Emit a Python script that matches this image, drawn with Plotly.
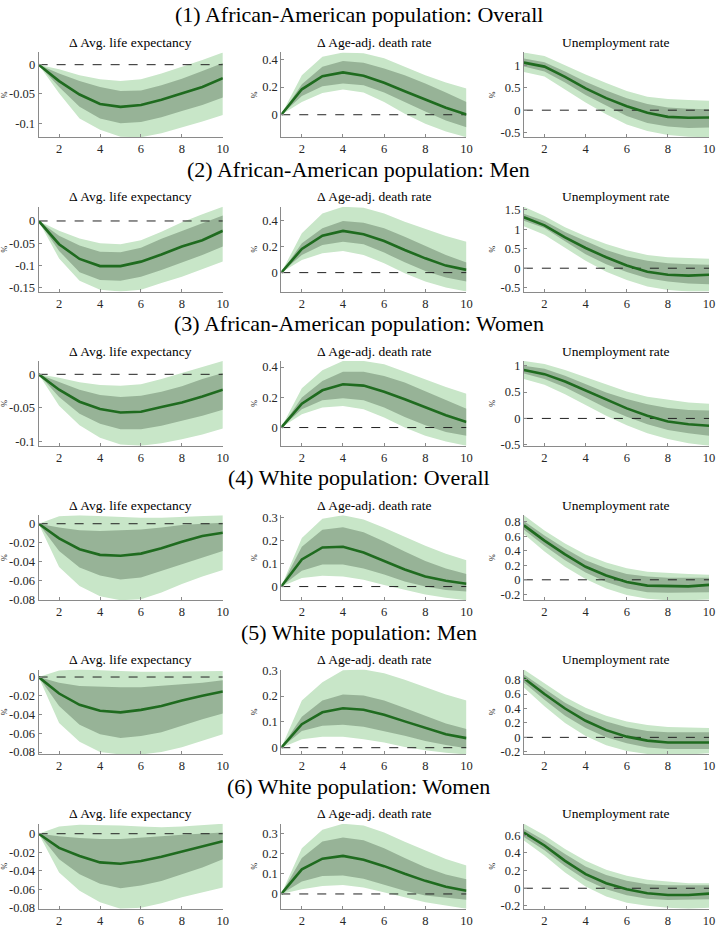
import plotly.graph_objects as go

# ---------------- data ----------------
horizon = [1, 2, 3, 4, 5, 6, 7, 8, 9, 10]
x_tick_vals = [2, 4, 6, 8, 10]
row_titles = [
    "(1) African-American population: Overall",
    "(2) African-American population: Men",
    "(3) African-American population: Women",
    "(4) White population: Overall",
    "(5) White population: Men",
    "(6) White population: Women",
]
panel_titles = ["Δ Avg. life expectancy", "Δ Age-adj. death rate", "Unemployment rate"]
y_unit = "%"

# Row 1: African-American overall
r1_le_med = [0, -0.028, -0.051, -0.067, -0.072, -0.069, -0.060, -0.049, -0.038, -0.023]
r1_le_in_hi = [0, -0.015, -0.028, -0.038, -0.045, -0.044, -0.035, -0.024, -0.011, 0.003]
r1_le_in_lo = [0, -0.038, -0.072, -0.092, -0.100, -0.098, -0.090, -0.079, -0.069, -0.056]
r1_le_out_hi = [0, -0.008, -0.018, -0.025, -0.028, -0.025, -0.015, -0.004, 0.008, 0.021]
r1_le_out_lo = [0, -0.049, -0.092, -0.111, -0.123, -0.124, -0.117, -0.107, -0.097, -0.086]
r1_le_ticks = [-0.1, -0.05, 0]

r1_dr_med = [0, 0.184, 0.279, 0.306, 0.282, 0.231, 0.170, 0.109, 0.051, 0.002]
r1_dr_in_hi = [0, 0.221, 0.347, 0.388, 0.376, 0.335, 0.286, 0.226, 0.160, 0.092]
r1_dr_in_lo = [0, 0.136, 0.206, 0.226, 0.214, 0.160, 0.092, 0.024, -0.041, -0.090]
r1_dr_out_hi = [0, 0.286, 0.420, 0.451, 0.444, 0.408, 0.347, 0.286, 0.233, 0.189]
r1_dr_out_lo = [0, 0.092, 0.158, 0.182, 0.160, 0.092, 0.007, -0.066, -0.121, -0.163]
r1_dr_ticks = [0, 0.2, 0.4]

r1_ur_med = [1.07, 0.98, 0.75, 0.49, 0.27, 0.09, -0.06, -0.15, -0.17, -0.165]
r1_ur_in_hi = [1.16, 1.08, 0.87, 0.64, 0.44, 0.27, 0.14, 0.06, 0.03, 0.02]
r1_ur_in_lo = [0.98, 0.87, 0.62, 0.34, 0.10, -0.13, -0.29, -0.37, -0.40, -0.39]
r1_ur_out_hi = [1.30, 1.22, 1.01, 0.80, 0.61, 0.43, 0.30, 0.25, 0.23, 0.21]
r1_ur_out_lo = [0.86, 0.76, 0.46, 0.17, -0.09, -0.32, -0.47, -0.56, -0.60, -0.61]
r1_ur_ticks = [-0.5, 0, 0.5, 1]

# Row 2: African-American men
r2_le_med = [0, -0.052, -0.085, -0.101, -0.101, -0.091, -0.075, -0.057, -0.043, -0.022]
r2_le_in_hi = [0, -0.033, -0.055, -0.069, -0.070, -0.060, -0.040, -0.022, -0.005, 0.012]
r2_le_in_lo = [0, -0.067, -0.115, -0.132, -0.134, -0.125, -0.110, -0.093, -0.076, -0.057]
r2_le_out_hi = [0, -0.022, -0.039, -0.050, -0.052, -0.043, -0.024, -0.003, 0.015, 0.032]
r2_le_out_lo = [0, -0.084, -0.134, -0.154, -0.158, -0.154, -0.139, -0.125, -0.108, -0.091]
r2_le_ticks = [-0.15, -0.1, -0.05, 0]

r2_dr_med = [0, 0.182, 0.285, 0.321, 0.295, 0.244, 0.174, 0.110, 0.054, 0.021]
r2_dr_in_hi = [0, 0.226, 0.341, 0.397, 0.385, 0.341, 0.277, 0.208, 0.136, 0.077]
r2_dr_in_lo = [0, 0.136, 0.213, 0.238, 0.218, 0.154, 0.079, 0.013, -0.038, -0.069]
r2_dr_out_hi = [0, 0.303, 0.456, 0.508, 0.500, 0.456, 0.392, 0.336, 0.282, 0.238]
r2_dr_out_lo = [0, 0.097, 0.149, 0.167, 0.136, 0.072, -0.005, -0.069, -0.115, -0.146]
r2_dr_ticks = [0, 0.2, 0.4]

r2_ur_med = [1.31, 1.10, 0.79, 0.52, 0.28, 0.07, -0.09, -0.17, -0.19, -0.17]
r2_ur_in_hi = [1.40, 1.21, 0.93, 0.69, 0.47, 0.30, 0.19, 0.13, 0.10, 0.09]
r2_ur_in_lo = [1.22, 1.03, 0.69, 0.36, 0.10, -0.10, -0.26, -0.34, -0.39, -0.41]
r2_ur_out_hi = [1.58, 1.34, 1.05, 0.82, 0.62, 0.46, 0.34, 0.28, 0.26, 0.24]
r2_ur_out_lo = [1.08, 0.86, 0.52, 0.19, -0.09, -0.30, -0.47, -0.56, -0.60, -0.60]
r2_ur_ticks = [-0.5, 0, 0.5, 1, 1.5]

# Row 3: African-American women
r3_le_med = [0, -0.023, -0.041, -0.052, -0.057, -0.056, -0.049, -0.042, -0.033, -0.023]
r3_le_in_hi = [0, -0.012, -0.023, -0.031, -0.034, -0.032, -0.026, -0.018, -0.007, 0.002]
r3_le_in_lo = [0, -0.034, -0.059, -0.074, -0.082, -0.082, -0.077, -0.069, -0.062, -0.053]
r3_le_out_hi = [0, -0.005, -0.012, -0.016, -0.017, -0.015, -0.007, 0.002, 0.011, 0.020]
r3_le_out_lo = [0, -0.047, -0.076, -0.095, -0.105, -0.107, -0.103, -0.097, -0.090, -0.081]
r3_le_ticks = [-0.1, -0.05, 0]

r3_dr_med = [0, 0.158, 0.246, 0.286, 0.277, 0.237, 0.187, 0.132, 0.081, 0.037]
r3_dr_in_hi = [0, 0.198, 0.308, 0.369, 0.369, 0.341, 0.297, 0.242, 0.182, 0.125]
r3_dr_in_lo = [0, 0.121, 0.180, 0.193, 0.180, 0.132, 0.070, 0.015, -0.029, -0.055]
r3_dr_out_hi = [0, 0.259, 0.378, 0.440, 0.440, 0.418, 0.369, 0.319, 0.268, 0.224]
r3_dr_out_lo = [0, 0.088, 0.132, 0.143, 0.121, 0.066, 0.000, -0.055, -0.092, -0.121]
r3_dr_ticks = [0, 0.2, 0.4]

r3_ur_med = [0.92, 0.84, 0.70, 0.53, 0.35, 0.19, 0.05, -0.06, -0.11, -0.14]
r3_ur_in_hi = [1.00, 0.94, 0.81, 0.65, 0.49, 0.37, 0.27, 0.20, 0.16, 0.15]
r3_ur_in_lo = [0.85, 0.75, 0.59, 0.39, 0.20, 0.03, -0.11, -0.22, -0.28, -0.33]
r3_ur_out_hi = [1.09, 1.03, 0.92, 0.78, 0.64, 0.51, 0.41, 0.35, 0.30, 0.28]
r3_ur_out_lo = [0.75, 0.64, 0.46, 0.25, 0.05, -0.13, -0.28, -0.39, -0.47, -0.52]
r3_ur_ticks = [-0.5, 0, 0.5, 1]

# Row 4: White overall
r4_le_med = [0, -0.0155, -0.027, -0.033, -0.034, -0.0317, -0.026, -0.019, -0.013, -0.0095]
r4_le_in_hi = [0, -0.004, -0.007, -0.0078, -0.007, -0.006, -0.004, -0.0014, 0, 0.001]
r4_le_in_lo = [0, -0.029, -0.0465, -0.055, -0.059, -0.057, -0.050, -0.043, -0.036, -0.029]
r4_le_out_hi = [0, 0.008, 0.009, 0.008, 0.007, 0.0063, 0.0063, 0.007, 0.008, 0.009]
r4_le_out_lo = [0, -0.046, -0.066, -0.077, -0.081, -0.080, -0.073, -0.064, -0.056, -0.049]
r4_le_ticks = [-0.08, -0.06, -0.04, -0.02, 0]

r4_dr_med = [0, 0.118, 0.170, 0.173, 0.148, 0.111, 0.074, 0.044, 0.025, 0.012]
r4_dr_in_hi = [0, 0.173, 0.247, 0.258, 0.236, 0.196, 0.152, 0.111, 0.078, 0.055]
r4_dr_in_lo = [0, 0.069, 0.096, 0.096, 0.078, 0.052, 0.022, 0.000, -0.015, -0.022]
r4_dr_out_hi = [0, 0.211, 0.295, 0.310, 0.291, 0.256, 0.217, 0.177, 0.143, 0.114]
r4_dr_out_lo = [0, 0.037, 0.047, 0.044, 0.030, 0.007, -0.015, -0.034, -0.049, -0.059]
r4_dr_ticks = [0, 0.1, 0.2, 0.3]

r4_ur_med = [0.75, 0.54, 0.35, 0.18, 0.06, -0.03, -0.08, -0.09, -0.09, -0.07]
r4_ur_in_hi = [0.81, 0.61, 0.43, 0.27, 0.16, 0.08, 0.045, 0.03, 0.03, 0.03]
r4_ur_in_lo = [0.69, 0.47, 0.27, 0.10, -0.03, -0.12, -0.17, -0.18, -0.18, -0.17]
r4_ur_out_hi = [0.89, 0.68, 0.50, 0.35, 0.24, 0.16, 0.11, 0.09, 0.08, 0.07]
r4_ur_out_lo = [0.63, 0.39, 0.18, 0.01, -0.12, -0.21, -0.26, -0.28, -0.28, -0.27]
r4_ur_ticks = [-0.2, 0, 0.2, 0.4, 0.6, 0.8]

# Row 5: White men
r5_le_med = [0, -0.0176, -0.0296, -0.036, -0.0377, -0.035, -0.031, -0.025, -0.020, -0.0155]
r5_le_in_hi = [0, -0.006, -0.0095, -0.0106, -0.011, -0.011, -0.0095, -0.0078, -0.006, -0.0035]
r5_le_in_lo = [0, -0.031, -0.051, -0.061, -0.065, -0.063, -0.059, -0.052, -0.045, -0.039]
r5_le_out_hi = [0, 0.007, 0.008, 0.007, 0.0063, 0.0056, 0.0056, 0.0056, 0.0063, 0.0063]
r5_le_out_lo = [0, -0.049, -0.069, -0.080, -0.0825, -0.0825, -0.080, -0.075, -0.068, -0.061]
r5_le_ticks = [-0.08, -0.06, -0.04, -0.02, 0]

r5_dr_med = [0, 0.091, 0.137, 0.153, 0.147, 0.128, 0.102, 0.076, 0.052, 0.037]
r5_dr_in_hi = [0, 0.120, 0.183, 0.206, 0.202, 0.183, 0.154, 0.124, 0.094, 0.072]
r5_dr_in_lo = [0, 0.065, 0.085, 0.089, 0.081, 0.065, 0.046, 0.026, 0.010, -0.002]
r5_dr_out_hi = [0, 0.183, 0.254, 0.300, 0.303, 0.289, 0.263, 0.235, 0.206, 0.183]
r5_dr_out_lo = [0, 0.033, 0.042, 0.042, 0.033, 0.020, 0.003, -0.010, -0.020, -0.026]
r5_dr_ticks = [0, 0.1, 0.2, 0.3]

r5_ur_med = [0.82, 0.60, 0.40, 0.23, 0.10, 0.01, -0.045, -0.07, -0.07, -0.07]
r5_ur_in_hi = [0.87, 0.67, 0.48, 0.33, 0.22, 0.14, 0.09, 0.07, 0.07, 0.07]
r5_ur_in_lo = [0.76, 0.52, 0.30, 0.13, 0.0, -0.08, -0.14, -0.16, -0.16, -0.16]
r5_ur_out_hi = [0.94, 0.75, 0.56, 0.41, 0.30, 0.22, 0.17, 0.145, 0.14, 0.13]
r5_ur_out_lo = [0.69, 0.43, 0.20, 0.02, -0.11, -0.19, -0.23, -0.236, -0.236, -0.22]
r5_ur_ticks = [-0.2, 0, 0.2, 0.4, 0.6, 0.8]

# Row 6: White women
r6_le_med = [0, -0.0153, -0.024, -0.031, -0.0324, -0.0295, -0.025, -0.0196, -0.0135, -0.0082]
r6_le_in_hi = [0, -0.0028, -0.0046, -0.0057, -0.0057, -0.0046, -0.0028, -0.001, 0, 0.0014]
r6_le_in_lo = [0, -0.0277, -0.0437, -0.054, -0.059, -0.056, -0.051, -0.0437, -0.0366, -0.0277]
r6_le_out_hi = [0, 0.0078, 0.0096, 0.0096, 0.0089, 0.0078, 0.0071, 0.0078, 0.0089, 0.0107]
r6_le_out_lo = [0, -0.042, -0.0615, -0.074, -0.081, -0.080, -0.075, -0.0686, -0.063, -0.058]
r6_le_ticks = [-0.08, -0.06, -0.04, -0.02, 0]

r6_dr_med = [0, 0.122, 0.175, 0.189, 0.170, 0.138, 0.100, 0.065, 0.036, 0.016]
r6_dr_in_hi = [0, 0.178, 0.260, 0.280, 0.267, 0.227, 0.178, 0.133, 0.097, 0.073]
r6_dr_in_lo = [0, 0.062, 0.089, 0.092, 0.076, 0.045, 0.016, -0.008, -0.019, -0.029]
r6_dr_out_hi = [0, 0.227, 0.319, 0.348, 0.340, 0.305, 0.259, 0.214, 0.173, 0.141]
r6_dr_out_lo = [0, 0.024, 0.040, 0.044, 0.032, 0.008, -0.016, -0.041, -0.057, -0.073]
r6_dr_ticks = [0, 0.1, 0.2, 0.3]

r6_ur_med = [0.63, 0.485, 0.31, 0.16, 0.057, -0.011, -0.057, -0.076, -0.076, -0.061]
r6_ur_in_hi = [0.674, 0.541, 0.389, 0.248, 0.149, 0.084, 0.046, 0.034, 0.034, 0.034]
r6_ur_in_lo = [0.581, 0.43, 0.25, 0.095, -0.011, -0.08, -0.118, -0.133, -0.133, -0.126]
r6_ur_out_hi = [0.731, 0.60, 0.446, 0.312, 0.21, 0.141, 0.095, 0.072, 0.057, 0.057]
r6_ur_out_lo = [0.541, 0.37, 0.179, 0.019, -0.095, -0.164, -0.20, -0.221, -0.232, -0.221]
r6_ur_ticks = [-0.2, 0, 0.2, 0.4, 0.6]

panels = [
    [(r1_le_med, r1_le_in_lo, r1_le_in_hi, r1_le_out_lo, r1_le_out_hi, r1_le_ticks),
     (r1_dr_med, r1_dr_in_lo, r1_dr_in_hi, r1_dr_out_lo, r1_dr_out_hi, r1_dr_ticks),
     (r1_ur_med, r1_ur_in_lo, r1_ur_in_hi, r1_ur_out_lo, r1_ur_out_hi, r1_ur_ticks)],
    [(r2_le_med, r2_le_in_lo, r2_le_in_hi, r2_le_out_lo, r2_le_out_hi, r2_le_ticks),
     (r2_dr_med, r2_dr_in_lo, r2_dr_in_hi, r2_dr_out_lo, r2_dr_out_hi, r2_dr_ticks),
     (r2_ur_med, r2_ur_in_lo, r2_ur_in_hi, r2_ur_out_lo, r2_ur_out_hi, r2_ur_ticks)],
    [(r3_le_med, r3_le_in_lo, r3_le_in_hi, r3_le_out_lo, r3_le_out_hi, r3_le_ticks),
     (r3_dr_med, r3_dr_in_lo, r3_dr_in_hi, r3_dr_out_lo, r3_dr_out_hi, r3_dr_ticks),
     (r3_ur_med, r3_ur_in_lo, r3_ur_in_hi, r3_ur_out_lo, r3_ur_out_hi, r3_ur_ticks)],
    [(r4_le_med, r4_le_in_lo, r4_le_in_hi, r4_le_out_lo, r4_le_out_hi, r4_le_ticks),
     (r4_dr_med, r4_dr_in_lo, r4_dr_in_hi, r4_dr_out_lo, r4_dr_out_hi, r4_dr_ticks),
     (r4_ur_med, r4_ur_in_lo, r4_ur_in_hi, r4_ur_out_lo, r4_ur_out_hi, r4_ur_ticks)],
    [(r5_le_med, r5_le_in_lo, r5_le_in_hi, r5_le_out_lo, r5_le_out_hi, r5_le_ticks),
     (r5_dr_med, r5_dr_in_lo, r5_dr_in_hi, r5_dr_out_lo, r5_dr_out_hi, r5_dr_ticks),
     (r5_ur_med, r5_ur_in_lo, r5_ur_in_hi, r5_ur_out_lo, r5_ur_out_hi, r5_ur_ticks)],
    [(r6_le_med, r6_le_in_lo, r6_le_in_hi, r6_le_out_lo, r6_le_out_hi, r6_le_ticks),
     (r6_dr_med, r6_dr_in_lo, r6_dr_in_hi, r6_dr_out_lo, r6_dr_out_hi, r6_dr_ticks),
     (r6_ur_med, r6_ur_in_lo, r6_ur_in_hi, r6_ur_out_lo, r6_ur_out_hi, r6_ur_ticks)],
]

# ---------------- styling / layout ----------------
W, H = 722, 929
FONT = "Liberation Serif, DejaVu Serif, serif"
TXT = "#262626"
AXIS_COL = "#8a8a8a"
OUTER_COL = "#c8e6c8"
INNER_COL = "#97b397"
LINE_COL = "#1f6b1f"

col_px = [(38, 224), (283, 470), (528, 715)]
row_top0, row_step, row_h = 47, 156.3, 86

fig = go.Figure()
layout = {}
annotations = []

for r in range(6):
    top = row_top0 + row_step * r
    bot = top + row_h
    ydom = [1 - bot / H, 1 - top / H]
    annotations.append(dict(
        text=row_titles[r], x=0.5, y=1 - (top - 38) / H, xref="paper", yref="paper",
        xanchor="center", yanchor="middle", showarrow=False,
        font=dict(family=FONT, size=22, color="#000000")))
    for c in range(3):
        i = r * 3 + c + 1
        sx = "" if i == 1 else str(i)
        xa, ya = "x" + sx, "y" + sx
        med, ilo, ihi, olo, ohi, yt = panels[r][c]
        xdom = [col_px[c][0] / W, col_px[c][1] / W]

        fig.add_trace(go.Scatter(
            x=horizon + horizon[::-1], y=ohi + olo[::-1], fill="toself",
            fillcolor=OUTER_COL, line=dict(width=0, color=OUTER_COL), mode="lines",
            hoverinfo="skip", showlegend=False, xaxis=xa, yaxis=ya))
        fig.add_trace(go.Scatter(
            x=horizon + horizon[::-1], y=ihi + ilo[::-1], fill="toself",
            fillcolor=INNER_COL, line=dict(width=0, color=INNER_COL), mode="lines",
            hoverinfo="skip", showlegend=False, xaxis=xa, yaxis=ya))
        fig.add_trace(go.Scatter(
            x=[horizon[0], horizon[-1]], y=[0, 0], mode="lines",
            line=dict(color="#222222", width=1, dash="dash"),
            hoverinfo="skip", showlegend=False, xaxis=xa, yaxis=ya))
        fig.add_trace(go.Scatter(
            x=horizon, y=med, mode="lines", line=dict(color=LINE_COL, width=2.6),
            showlegend=False, xaxis=xa, yaxis=ya))

        ymin = min(olo + [0])
        ymax = max(ohi + [0])
        layout["xaxis" + sx] = dict(
            domain=xdom, anchor=ya, range=[horizon[0], horizon[-1]],
            tickvals=x_tick_vals, ticktext=[str(v) for v in x_tick_vals],
            showline=True, linecolor=AXIS_COL, linewidth=1, ticks="inside", ticklen=3,
            tickcolor=AXIS_COL, showgrid=False, zeroline=False,
            tickfont=dict(family=FONT, size=12.5, color=TXT))
        layout["yaxis" + sx] = dict(
            domain=ydom, anchor=xa, range=[ymin, ymax],
            tickvals=yt, ticktext=[f"{v:g}" for v in yt],
            showline=True, linecolor=AXIS_COL, linewidth=1, ticks="inside", ticklen=3,
            tickcolor=AXIS_COL, showgrid=False, zeroline=False,
            tickfont=dict(family=FONT, size=12.5, color=TXT),
            title=dict(text=y_unit, font=dict(family=FONT, size=8, color=TXT), standoff=3))
        annotations.append(dict(
            text=panel_titles[c], x=(xdom[0] + xdom[1]) / 2, y=1 - (top - 10) / H,
            xref="paper", yref="paper", xanchor="center", yanchor="middle",
            showarrow=False, font=dict(family=FONT, size=13.5, color="#000000")))

fig.update_layout(
    width=W, height=H, margin=dict(l=0, r=0, t=0, b=0),
    font=dict(family=FONT),
    plot_bgcolor="white", paper_bgcolor="white",
    annotations=annotations, **layout)

fig.write_html(
    "out.html",
    config={"displayModeBar": False},
    post_script="document.body.style.margin='0';document.body.style.overflow='hidden';",
)
